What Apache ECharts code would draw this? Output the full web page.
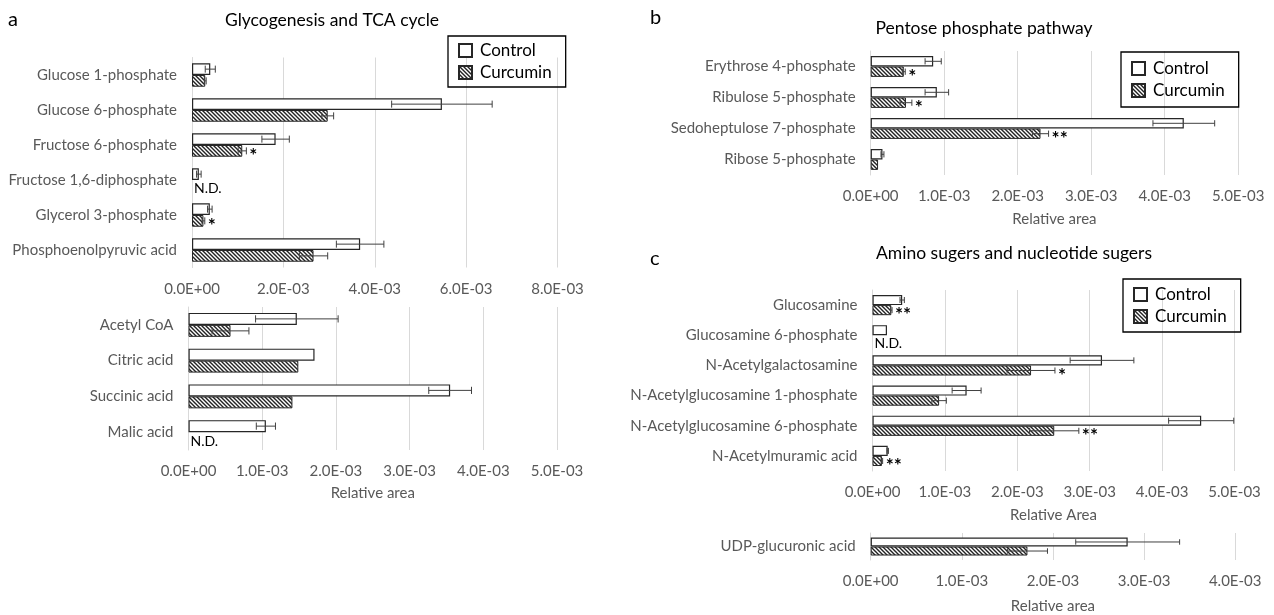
<!DOCTYPE html>
<html>
<head>
<meta charset="utf-8">
<script src="https://cdn.jsdelivr.net/npm/echarts@6/dist/echarts.min.js"></script>
<style>
html, body { margin: 0; padding: 0; background: #fff; }
#main { width: 1274px; height: 615px; }
</style>
</head>
<body>
<div id="main"></div>
<script>
// a: glycogenesis
var glyCats = ['Glucose 1-phosphate', 'Glucose 6-phosphate', 'Fructose 6-phosphate', 'Fructose 1,6-diphosphate', 'Glycerol 3-phosphate', 'Phosphoenolpyruvic acid'];
var glyControl = [0.40e-3, 5.47e-3, 1.83e-3, 0.15e-3, 0.39e-3, 3.68e-3];
var glyControlErr = [0.11e-3, 1.10e-3, 0.30e-3, 0.05e-3, 0.05e-3, 0.52e-3];
var glyCurcumin = [0.29e-3, 2.97e-3, 1.10e-3, null, 0.25e-3, 2.66e-3];
var glyCurcuminErr = [0.02e-3, 0.13e-3, 0.09e-3, 0, 0.03e-3, 0.31e-3];
var glyMarks = ['', '', '*', '', '*', ''];

// a: TCA cycle
var tcaCats = ['Acetyl CoA', 'Citric acid', 'Succinic acid', 'Malic acid'];
var tcaControl = [1.47e-3, 1.71e-3, 3.55e-3, 1.05e-3];
var tcaControlErr = [0.56e-3, 0, 0.29e-3, 0.13e-3];
var tcaCurcumin = [0.57e-3, 1.49e-3, 1.41e-3, null];
var tcaCurcuminErr = [0.25e-3, 0, 0, 0];
var tcaMarks = ['', '', '', ''];

// b: pentose phosphate
var ppCats = ['Erythrose 4-phosphate', 'Ribulose 5-phosphate', 'Sedoheptulose 7-phosphate', 'Ribose 5-phosphate'];
var ppControl = [0.85e-3, 0.90e-3, 4.26e-3, 0.16e-3];
var ppControlErr = [0.11e-3, 0.16e-3, 0.42e-3, 0.02e-3];
var ppCurcumin = [0.45e-3, 0.48e-3, 2.31e-3, 0.10e-3];
var ppCurcuminErr = [0.02e-3, 0.08e-3, 0.11e-3, 0];
var ppMarks = ['*', '*', '**', ''];

// c: amino sugars
var amCats = ['Glucosamine', 'Glucosamine 6-phosphate', 'N-Acetylgalactosamine', 'N-Acetylglucosamine 1-phosphate', 'N-Acetylglucosamine 6-phosphate', 'N-Acetylmuramic acid'];
var amControl = [0.41e-3, 0.20e-3, 3.17e-3, 1.30e-3, 4.54e-3, 0.21e-3];
var amControlErr = [0.03e-3, 0, 0.44e-3, 0.20e-3, 0.45e-3, 0.01e-3];
var amCurcumin = [0.26e-3, null, 2.19e-3, 0.92e-3, 2.51e-3, 0.13e-3];
var amCurcuminErr = [0.01e-3, 0, 0.33e-3, 0.10e-3, 0.34e-3, 0.01e-3];
var amMarks = ['**', '', '*', '', '**', '**'];

// c: nucleotide sugars
var udpCats = ['UDP-glucuronic acid'];
var udpControl = [2.82e-3];
var udpControlErr = [0.57e-3];
var udpCurcumin = [1.72e-3];
var udpCurcuminErr = [0.22e-3];
var udpMarks = [''];

var FONT = 'Lato';
var GAP = 0.33;

function hatch() {
    var c = document.createElement('canvas');
    c.width = 4; c.height = 4;
    var g = c.getContext('2d');
    g.fillStyle = '#fff';
    g.fillRect(0, 0, 4, 4);
    g.strokeStyle = '#222';
    g.lineWidth = 1.4;
    g.beginPath();
    g.moveTo(-1, -1); g.lineTo(5, 5);
    g.moveTo(-1, 3); g.lineTo(1, 5);
    g.moveTo(3, -1); g.lineTo(5, 1);
    g.stroke();
    return c;
}
var hatchFill = { image: hatch(), repeat: 'repeat' };

function sci(v) {
    var s = Number(v).toExponential(1).split('e');
    var e = parseInt(s[1], 10);
    var a = Math.abs(e);
    return s[0] + 'E' + (e < 0 ? '-' : '+') + (a < 10 ? '0' : '') + a;
}

function makeRender(vals, errs, marks, slot) {
    return function (params, api) {
        var i = params.dataIndex;
        var v = vals[i], e = errs[i];
        var band = api.size([0, 1])[1];
        var bw = band * (1 - GAP) / 2;
        var base = api.coord([0, i]);
        var y = base[1] + (slot ? bw / 2 : -bw / 2);
        var kids = [];
        if (v === null) {
            kids.push({ type: 'text', style: { text: 'N.D.', x: base[0] + 2, y: y + 3, verticalAlign: 'middle', fontFamily: FONT, fontSize: 14, fill: '#000' } });
            return { type: 'group', children: kids };
        }
        var right = v;
        if (e > 0) {
            var x1 = api.coord([v - e, i])[0], x2 = api.coord([v + e, i])[0];
            var cap = bw * 0.3;
            var ls = { stroke: '#404040', lineWidth: 1 };
            kids.push({ type: 'line', shape: { x1: x1, y1: y, x2: x2, y2: y }, style: ls });
            kids.push({ type: 'line', shape: { x1: x1, y1: y - cap, x2: x1, y2: y + cap }, style: ls });
            kids.push({ type: 'line', shape: { x1: x2, y1: y - cap, x2: x2, y2: y + cap }, style: ls });
            right = v + e;
        }
        if (marks && marks[i]) {
            kids.push({ type: 'text', style: { text: marks[i], x: api.coord([right, i])[0] + 3, y: y + 5, verticalAlign: 'middle', fontFamily: FONT, fontSize: 19, fontWeight: 'bold', fill: '#000' } });
        }
        return { type: 'group', children: kids };
    };
}

var panels = [
    { cats: glyCats, ctl: glyControl, ctlErr: glyControlErr, cur: glyCurcumin, curErr: glyCurcuminErr, marks: glyMarks,
      grid: { left: 192, top: 57.5, width: 365.5, height: 210 }, max: 8e-3, interval: 2e-3, name: '', nameGap: 36 },
    { cats: tcaCats, ctl: tcaControl, ctlErr: tcaControlErr, cur: tcaCurcumin, curErr: tcaCurcuminErr, marks: tcaMarks,
      grid: { left: 188.5, top: 307, width: 368.5, height: 143 }, max: 5e-3, interval: 1e-3, name: 'Relative area', nameGap: 36 },
    { cats: ppCats, ctl: ppControl, ctlErr: ppControlErr, cur: ppCurcumin, curErr: ppCurcuminErr, marks: ppMarks,
      grid: { left: 870.7, top: 51, width: 367.5, height: 124 }, max: 5e-3, interval: 1e-3, name: 'Relative area', nameGap: 37 },
    { cats: amCats, ctl: amControl, ctlErr: amControlErr, cur: amCurcumin, curErr: amCurcuminErr, marks: amMarks,
      grid: { left: 872.5, top: 290, width: 362, height: 181 }, max: 5e-3, interval: 1e-3, name: 'Relative Area', nameGap: 37 },
    { cats: udpCats, ctl: udpControl, ctlErr: udpControlErr, cur: udpCurcumin, curErr: udpCurcuminErr, marks: udpMarks,
      grid: { left: 870.7, top: 533, width: 364.5, height: 27 }, max: 4e-3, interval: 1e-3, name: 'Relative area', nameGap: 39 }
];

var grids = [], xAxes = [], yAxes = [], series = [];
panels.forEach(function (p, k) {
    grids.push(p.grid);
    xAxes.push({
        type: 'value', gridIndex: k, min: 0, max: p.max, interval: p.interval,
        name: p.name, nameLocation: 'middle', nameGap: p.nameGap,
        nameTextStyle: { fontFamily: FONT, fontSize: 15, color: '#595959' },
        axisLine: { show: false }, axisTick: { show: false },
        axisLabel: { formatter: sci, margin: 14, fontFamily: FONT, fontSize: 15, color: '#595959' },
        splitLine: { lineStyle: { color: '#d9d9d9', width: 1 } }
    });
    yAxes.push({
        type: 'category', gridIndex: k, data: p.cats, inverse: true,
        axisLine: { lineStyle: { color: '#d9d9d9' } }, axisTick: { show: false },
        axisLabel: { margin: 15, fontFamily: FONT, fontSize: 15, color: '#595959' }
    });
    series.push({
        name: 'Control', type: 'bar', xAxisIndex: k, yAxisIndex: k, data: p.ctl,
        barGap: '0%', barCategoryGap: (GAP * 100) + '%',
        itemStyle: { color: '#fff', borderColor: '#262626', borderWidth: 1.2 }
    });
    series.push({
        name: 'Curcumin', type: 'bar', xAxisIndex: k, yAxisIndex: k,
        data: p.cur.map(function (v) { return v === null ? '-' : v; }),
        barGap: '0%', barCategoryGap: (GAP * 100) + '%',
        itemStyle: { color: hatchFill, borderColor: '#262626', borderWidth: 1 }
    });
    series.push({
        type: 'custom', xAxisIndex: k, yAxisIndex: k, silent: true, z: 5,
        renderItem: makeRender(p.ctl, p.ctlErr, null, 0),
        data: p.ctl.map(function (v, i) { return [v, i]; }), encode: { x: 0, y: 1 }
    });
    series.push({
        type: 'custom', xAxisIndex: k, yAxisIndex: k, silent: true, z: 5,
        renderItem: makeRender(p.cur, p.curErr, p.marks, 1),
        data: p.cur.map(function (v, i) { return [v === null ? 0 : v, i]; }), encode: { x: 0, y: 1 }
    });
});

function legendAt(left, top, vpad) {
    return {
        left: left, top: top, orient: 'vertical', data: ['Control', 'Curcumin'],
        icon: 'rect', itemWidth: 13, itemHeight: 13, itemGap: 5,
        borderColor: '#000', borderWidth: 1.3, padding: [vpad, 14, vpad, 10],
        textStyle: { fontFamily: FONT, fontSize: 17, color: '#000', padding: [0, 0, 0, 3] },
        selectedMode: false
    };
}

function label(text, x, y, size, align) {
    return { type: 'text', x: x, y: y, style: { text: text, fontFamily: FONT, fontSize: size, fill: '#000', align: align, verticalAlign: 'middle' } };
}

var chart = echarts.init(document.getElementById('main'));
chart.setOption({
    backgroundColor: '#fff',
    animation: false,
    grid: grids,
    xAxis: xAxes,
    yAxis: yAxes,
    legend: [legendAt(448, 36, 6), legendAt(1121, 52, 8), legendAt(1123, 279, 7)],
    graphic: [
        label('a', 8, 20, 20, 'left'),
        label('Glycogenesis and TCA cycle', 332, 20, 17.5, 'center'),
        label('b', 650, 18, 20, 'left'),
        label('Pentose phosphate pathway', 984, 28, 17.5, 'center'),
        label('c', 650, 259, 20, 'left'),
        label('Amino sugers and nucleotide sugers', 1014, 253, 17.5, 'center')
    ],
    series: series
});
</script>
</body>
</html>
